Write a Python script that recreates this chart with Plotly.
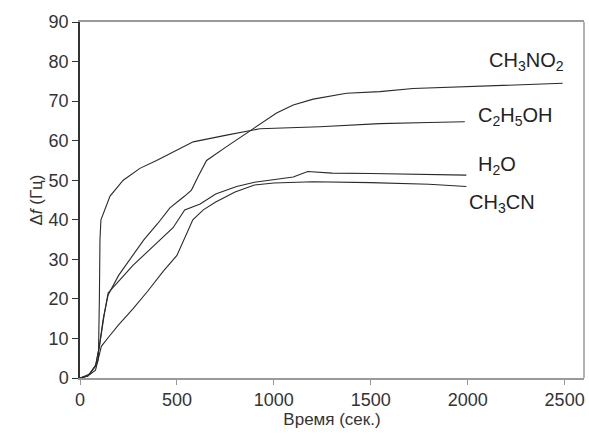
import plotly.graph_objects as go

# ---- data ----
ch3no2_t = [0, 40, 80, 100, 120, 145, 200, 258, 330, 400, 464, 540, 575, 610, 653, 756, 876, 1014, 1100, 1203, 1375, 1546, 1718, 1890, 2100, 2300, 2490]
ch3no2_f = [0, 0.5, 3, 8, 15, 21, 26, 30, 35, 39, 43, 46, 47.5, 51, 55, 58.5, 62.5, 67, 69, 70.5, 72, 72.4, 73.2, 73.5, 73.8, 74.2, 74.5]

c2h5oh_t = [0, 40, 80, 95, 100, 103, 108, 130, 155, 223, 309, 395, 515, 584, 756, 928, 1237, 1546, 1800, 1985]
c2h5oh_f = [0, 0.5, 2, 5, 20, 35, 40, 43, 46, 50, 53, 55, 58, 59.7, 61.4, 63, 63.5, 64.3, 64.6, 64.8]

h2o_t = [0, 40, 80, 100, 125, 145, 200, 273, 350, 480, 540, 620, 700, 808, 900, 1000, 1100, 1175, 1300, 1500, 1700, 1850, 1993]
h2o_f = [0, 0.5, 3, 8, 16, 21.5, 24.5, 28.5, 32, 38, 42.5, 44, 46.5, 48.4, 49.5, 50.2, 50.8, 52.2, 51.8, 51.7, 51.6, 51.5, 51.3]

ch3cn_t = [0, 50, 90, 110, 150, 200, 273, 350, 430, 500, 582, 636, 700, 800, 900, 1000, 1200, 1500, 1800, 1993]
ch3cn_f = [0, 1, 4, 8, 10.5, 13.5, 17.5, 22, 27, 31, 40, 42.5, 44.5, 47, 48.8, 49.3, 49.6, 49.4, 49, 48.4]

series = [
    ("CH<sub>3</sub>NO<sub>2</sub>", ch3no2_t, ch3no2_f),
    ("C<sub>2</sub>H<sub>5</sub>OH", c2h5oh_t, c2h5oh_f),
    ("H<sub>2</sub>O", h2o_t, h2o_f),
    ("CH<sub>3</sub>CN", ch3cn_t, ch3cn_f),
]

x_ticks = [0, 500, 1000, 1500, 2000, 2500]
y_ticks = [0, 10, 20, 30, 40, 50, 60, 70, 80, 90]

fig = go.Figure()
for name, t, f in series:
    fig.add_trace(go.Scatter(x=t, y=f, mode="lines", name=name,
                             line=dict(color="#2a2a2a", width=1.1), showlegend=False))

# curve labels
labels = [
    ("CH<sub>3</sub>NO<sub>2</sub>", 2100, 80.0),
    ("C<sub>2</sub>H<sub>5</sub>OH", 2045, 66.2),
    ("H<sub>2</sub>O", 2045, 53.8),
    ("CH<sub>3</sub>CN", 1995, 44.2),
]
for txt, x, y in labels:
    fig.add_annotation(x=x, y=y, text=txt, showarrow=False, xanchor="left",
                       font=dict(family="Liberation Sans, Arial", size=20, color="#222"))

font = dict(family="Liberation Sans, Arial", size=18, color="#333")
tfont = dict(family="Liberation Sans, Arial", size=17, color="#333")
fig.update_layout(
    width=589, height=441,
    margin=dict(l=80, r=5, t=22, b=63),
    paper_bgcolor="white", plot_bgcolor="white",
    font=font,
    xaxis=dict(range=[0, 2600], tickvals=x_ticks, showgrid=False, zeroline=False,
               showline=True, linecolor="#999", linewidth=1.5, mirror=True,
               ticks="outside", ticklen=5, tickcolor="#999", tickfont=font,
               title=dict(text="Время (сек.)", standoff=0, font=tfont)),
    yaxis=dict(range=[0, 90], tickvals=y_ticks, showgrid=False, zeroline=False,
               showline=True, linecolor="#333", linewidth=1.5,
               ticks="outside", ticklen=6, tickcolor="#333", tickfont=font,
               ticksuffix="\u00a0\u2009",
               title=dict(text="Δ<i>f</i> (Гц)", standoff=2, font=tfont)),
)
# right border (grey)
fig.add_shape(type="line", xref="paper", yref="paper", x0=1, x1=1, y0=0, y1=1,
              line=dict(color="#999", width=1.5))

fig.write_html("out.html", config={"displayModeBar": False},
               post_script="document.body.style.margin='0';")
